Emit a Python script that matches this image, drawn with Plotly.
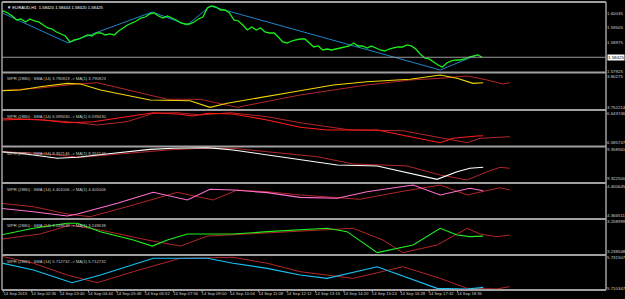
import plotly.graph_objects as go

# ---------------- data ----------------
# time axis: minutes after 14 Sep 2015 01:32 (first axis label)
time_ticks = [0, 64, 128, 192, 256, 320, 384, 448, 512, 576, 640, 704, 768, 832, 896, 960, 1024]
time_labels = ["14 Sep 2015", "14 Sep 02:36", "14 Sep 03:40", "14 Sep 04:44", "14 Sep 05:48",
               "14 Sep 06:52", "14 Sep 07:56", "14 Sep 09:00", "14 Sep 10:04", "14 Sep 11:08",
               "14 Sep 12:12", "14 Sep 13:16", "14 Sep 14:20", "14 Sep 15:24", "14 Sep 16:28",
               "14 Sep 17:32", "14 Sep 18:36"]

# EURAUD close, one value every 10 minutes
price_time = list(range(-10, 1081, 10))
price_close = [1.60071, 1.60108, 1.60035, 1.59926, 1.59780, 1.59817, 1.59708, 1.59817, 1.59744, 1.59708,
               1.59598, 1.59489, 1.59453, 1.59344, 1.59271, 1.59198, 1.58980, 1.59053, 1.59089, 1.59162,
               1.59235, 1.59198, 1.59307, 1.59307, 1.59235, 1.59271, 1.59235, 1.59380, 1.59489, 1.59598,
               1.59671, 1.59744, 1.59853, 1.59889, 1.59999, 1.60035, 1.59926, 1.59853, 1.59926, 1.59853,
               1.59780, 1.59671, 1.59635, 1.59635, 1.59708, 1.59817, 1.59889, 1.60217, 1.60290, 1.60253,
               1.60144, 1.60144, 1.60035, 1.59780, 1.59744, 1.59598, 1.59417, 1.59526, 1.59417, 1.59489,
               1.59344, 1.59307, 1.59307, 1.59162, 1.58980, 1.58944, 1.59016, 1.59053, 1.59089, 1.59089,
               1.58944, 1.58798, 1.58835, 1.58689, 1.58725, 1.58689, 1.58725, 1.58762, 1.58798, 1.58835,
               1.58944, 1.58835, 1.58835, 1.58762, 1.58835, 1.58762, 1.58689, 1.58653, 1.58725, 1.58762,
               1.58798, 1.58798, 1.58871, 1.58835, 1.58725, 1.58543, 1.58398, 1.58362, 1.58252, 1.58143,
               1.58071, 1.58216, 1.58289, 1.58325, 1.58325, 1.58362, 1.58434, 1.58471, 1.58507, 1.58425]

zigzag_time = [-7, 146, 336, 415, 466, 985, 1068]
zigzag_price = [1.60071, 1.58944, 1.60071, 1.59598, 1.60290, 1.57961, 1.58507]

price_ticks = [1.60035, 1.59505, 1.58975, 1.57925]
price_ticktext = ["1.60035", "1.59505", "1.58975", "1.57925"]
last_price_text = "1.58425"
title_text = "\u25bc EURAUD,H1  1.58420 1.58444 1.58420 1.58425"

# indicator 1 (yellow)
w1_time = [-7, 38, 83, 144, 174, 219, 331, 383, 421, 466, 505, 669, 744, 820, 917, 985, 1023, 1059, 1082]
w1_val = [3.7788, 3.7799, 3.7853, 3.7908, 3.7897, 3.7799, 3.7636, 3.7636, 3.7625, 3.7517, 3.7583,
          3.7788, 3.7881, 3.7935, 3.7974, 3.8044, 3.7990, 3.7908, 3.7918]
m1_time = [-7, 83, 167, 212, 370, 444, 527, 669, 820, 917, 985, 1046, 1091, 1127, 1142]
m1_val = [3.7788, 3.7832, 3.7897, 3.7918, 3.7648, 3.7648, 3.7517, 3.7718, 3.7881, 3.7962, 3.7990,
          3.8028, 3.7962, 3.7897, 3.7918]

# indicator 2 (red)
w2_time = [-7, 38, 90, 144, 203, 279, 338, 392, 428, 460, 518, 595, 669, 730, 843, 985, 1014, 1068, 1082]
w2_val = [6.6305, 6.6319, 6.6305, 6.6252, 6.6272, 6.6370, 6.6449, 6.6424, 6.6384, 6.6437, 6.6424,
          6.6305, 6.6161, 6.6108, 6.6108, 6.5857, 6.5944, 6.5990, 6.5994]
m2_time = [-7, 68, 144, 212, 279, 338, 392, 444, 512, 595, 669, 782, 901, 1046, 1075, 1142]
m2_val = [6.6339, 6.6319, 6.6272, 6.6207, 6.6272, 6.6437, 6.6449, 6.6404, 6.6449, 6.6370, 6.6252,
          6.6108, 6.6094, 6.5857, 6.5944, 6.5976]

# indicator 3 (white)
w3_time = [-7, 38, 122, 167, 248, 331, 383, 460, 518, 595, 669, 753, 843, 917, 978, 1023, 1052, 1082]
w3_val = [9.3559, 9.3539, 9.3476, 9.3489, 9.3539, 9.3589, 9.3602, 9.3610, 9.3581, 9.3518, 9.3464,
          9.3392, 9.3380, 9.3288, 9.3212, 9.3308, 9.3351, 9.3363]
m3_time = [-7, 83, 174, 270, 370, 444, 518, 595, 669, 708, 789, 910, 985, 1046, 1091, 1120, 1142]
m3_val = [9.3559, 9.3539, 9.3489, 9.3530, 9.3581, 9.3602, 9.3602, 9.3559, 9.3518, 9.3496, 9.3405,
          9.3380, 9.3266, 9.3204, 9.3308, 9.3363, 9.3351]

# indicator 4 (pink)
w4_time = [-7, 68, 144, 167, 257, 338, 415, 466, 518, 595, 669, 753, 820, 924, 985, 1052, 1082]
w4_val = [4.3744, 4.3704, 4.3653, 4.3677, 4.3803, 4.3932, 4.3842, 4.3968, 4.3959, 4.3928, 4.3873,
          4.3862, 4.3939, 4.4018, 4.3901, 4.3979, 4.3951]
m4_time = [-7, 68, 144, 196, 293, 392, 473, 527, 595, 669, 744, 804, 895, 985, 1046, 1120, 1142]
m4_val = [4.3803, 4.3763, 4.3677, 4.3645, 4.3783, 4.3932, 4.3842, 4.3959, 4.3939, 4.3901, 4.3873,
          4.3850, 4.3939, 4.4018, 4.3901, 4.3986, 4.3959]

# indicator 5 (green)
w5_time = [-7, 68, 144, 167, 219, 293, 336, 370, 415, 518, 595, 669, 730, 775, 843, 924, 985, 1023, 1052, 1082]
w5_val = [3.2499, 3.2545, 3.2579, 3.2579, 3.2522, 3.2465, 3.2424, 3.2465, 3.2506, 3.2506, 3.2522,
          3.2533, 3.2545, 3.2522, 3.2379, 3.2431, 3.2545, 3.2499, 3.2488, 3.2492]
m5_time = [-7, 83, 151, 219, 325, 399, 460, 595, 669, 789, 856, 901, 978, 1046, 1075, 1113, 1142]
m5_val = [3.2470, 3.2506, 3.2567, 3.2533, 3.2465, 3.2424, 3.2492, 3.2515, 3.2529, 3.2545, 3.2465,
          3.2379, 3.2431, 3.2545, 3.2506, 3.2488, 3.2499]

# indicator 6 (cyan)
w6_time = [-7, 68, 155, 219, 338, 460, 518, 595, 669, 730, 843, 917, 978, 1046, 1082]
w6_val = [5.7278, 5.7228, 5.7140, 5.7193, 5.7308, 5.7308, 5.7274, 5.7239, 5.7193, 5.7170, 5.7250,
          5.7170, 5.7101, 5.7097, 5.7108]
m6_time = [-7, 68, 144, 212, 293, 399, 518, 595, 669, 789, 901, 985, 1046, 1113, 1142]
m6_val = [5.7324, 5.7274, 5.7193, 5.7140, 5.7216, 5.7308, 5.7315, 5.7274, 5.7216, 5.7170, 5.7250,
          5.7170, 5.7101, 5.7097, 5.7113]

headers = ["WPR (2880) : SMA (14) 3.790923 -> MA(1) 3.790923",
           "WPR (2880) : SMA (14) 6.599430 -> MA(1) 6.599430",
           "WPR (2880) : SMA (14) 9.352146 -> MA(1) 9.352146",
           "WPR (2880) : SMA (14) 4.401006 -> MA(1) 4.401006",
           "WPR (2880) : SMA (14) 3.249638 -> MA(1) 3.249638",
           "WPR (2880) : SMA (14) 5.712732 -> MA(1) 5.712732"]
scale_ticks = [[3.80275, 3.752214], [6.643746, 6.585747], [9.358941, 9.3225],
               [4.400645, 4.366511], [3.258999, 3.238548], [5.731507, 5.710347]]
scale_text = [["3.80275", "3.752214"], ["6.643746", "6.585747"], ["9.358941", "9.322500"],
              ["4.400645", "4.366511"], ["3.258999", "3.238548"], ["5.731507", "5.710347"]]

# ---------------- styling ----------------
FONT = "Liberation Sans"
TXT = "#d0d0d0"
FRAME = "#a0a0a0"
MA_RED = "#b3262a"
bounds = [1.0, 0.75521, 0.625, 0.49826, 0.37153, 0.24653, 0.12153, 0.0]
ranges = [[1.57870, 1.60435], [3.74733, 3.80846], [6.57824, 6.65026], [9.31659, 9.36246],
          [4.36180, 4.40418], [3.23630, 3.26084], [5.70898, 5.73309]]
main_colors = ["#f2d600", "#ff1a1a", "#ffffff", "#ff6fcf", "#22f022", "#19c3f5"]

ind_main = [(w1_time, w1_val), (w2_time, w2_val), (w3_time, w3_val),
            (w4_time, w4_val), (w5_time, w5_val), (w6_time, w6_val)]
ind_ma = [(m1_time, m1_val), (m2_time, m2_val), (m3_time, m3_val),
          (m4_time, m4_val), (m5_time, m5_val), (m6_time, m6_val)]

fig = go.Figure()
fig.add_trace(go.Scatter(x=zigzag_time, y=zigzag_price, mode="lines",
                         line=dict(color="#2184c8", width=1), xaxis="x", yaxis="y",
                         hoverinfo="skip"))
fig.add_trace(go.Scatter(x=price_time, y=price_close, mode="lines",
                         line=dict(color="#19f019", width=1.3), xaxis="x", yaxis="y",
                         hoverinfo="skip"))
for k in range(6):
    ya = "y%d" % (k + 2)
    fig.add_trace(go.Scatter(x=ind_ma[k][0], y=ind_ma[k][1], mode="lines",
                             line=dict(color=MA_RED, width=1), xaxis="x", yaxis=ya,
                             hoverinfo="skip"))
    fig.add_trace(go.Scatter(x=ind_main[k][0], y=ind_main[k][1], mode="lines",
                             line=dict(color=main_colors[k], width=1.1), xaxis="x", yaxis=ya,
                             hoverinfo="skip"))

layout = dict(
    width=625, height=299,
    margin=dict(l=2, r=19, t=2, b=9, autoexpand=False),
    paper_bgcolor="black", plot_bgcolor="black",
    showlegend=False,
    font=dict(family=FONT, size=5, color=TXT),
    xaxis=dict(domain=[0, 1], range=[-3, 1358.9], anchor="y7",
               tickvals=time_ticks, ticktext=time_labels, tickangle=0,
               tickfont=dict(size=4.2, color=TXT, family=FONT),
               ticks="", ticklabelshift=12, automargin=False,
               showgrid=False, zeroline=False, showline=False),
)
all_ticks = [price_ticks] + scale_ticks
all_text = [price_ticktext] + scale_text
for k in range(7):
    key = "yaxis" if k == 0 else "yaxis%d" % (k + 1)
    layout[key] = dict(domain=[bounds[k + 1], bounds[k]], range=ranges[k], anchor="x",
                       side="right", tickvals=all_ticks[k], ticktext=all_text[k],
                       tickfont=dict(size=4.4, color=TXT, family=FONT),
                       ticks="", ticklabeloverflow="allow", automargin=False,
                       showgrid=False, zeroline=False, showline=False)
fig.update_layout(**layout)

shapes = []
for b in bounds:
    shapes.append(dict(type="line", xref="paper", yref="paper", x0=0, x1=1, y0=b, y1=b,
                       line=dict(color=FRAME, width=2)))
shapes.append(dict(type="line", xref="paper", yref="paper", x0=0, x1=0, y0=0, y1=1,
                   line=dict(color=FRAME, width=1.5)))
shapes.append(dict(type="line", xref="paper", yref="paper", x0=1, x1=1, y0=0, y1=1,
                   line=dict(color=FRAME, width=1.5)))
# time axis tick marks below the bottom frame
for t in time_ticks:
    shapes.append(dict(type="line", xref="x", yref="paper", x0=t, x1=t, y0=0, y1=-0.008,
                       line=dict(color=FRAME, width=1)))
# bid line
shapes.append(dict(type="line", xref="paper", yref="y", x0=0, x1=1,
                   y0=price_close[-1], y1=price_close[-1],
                   line=dict(color="#9a9a9a", width=1)))
fig.update_layout(shapes=shapes)

ann = [dict(text=title_text, xref="paper", yref="y domain", x=0.005, y=1, yshift=-1,
            xanchor="left", yanchor="top", showarrow=False,
            font=dict(size=4.2, color="#ffffff", family=FONT)),
       dict(text=last_price_text, xref="paper", yref="y", x=1, y=price_close[-1], xshift=1,
            xanchor="left", yanchor="middle", showarrow=False, bgcolor="#ffffff",
            borderpad=0, font=dict(size=4.4, color="#000000", family=FONT))]
for k in range(6):
    ann.append(dict(text=headers[k], xref="paper", yref="y%d domain" % (k + 2), x=0.005, y=1,
                    yshift=-2, xanchor="left", yanchor="top", showarrow=False,
                    font=dict(size=4.2, color="#c8c8c8", family=FONT)))
fig.update_layout(annotations=ann)

fig.write_html("out.html")
